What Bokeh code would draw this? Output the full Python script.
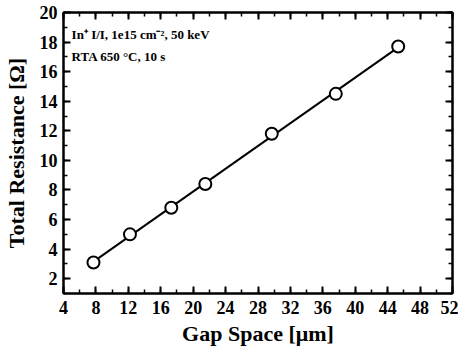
import numpy as np
from bokeh.plotting import figure
from bokeh.models import LinearAxis, SingleIntervalTicker, Range1d, Label, CustomJSTickFormatter
from bokeh.embed import file_html
from bokeh.resources import INLINE

gap_space = [7.7, 12.2, 17.3, 21.5, 29.7, 37.6, 45.3]
resistance = [3.1, 5.0, 6.8, 8.4, 11.8, 14.5, 17.7]
x_ticks_interval = 4
y_ticks_interval = 2
note_lines = ["In\u207a I/I, 1e15 cm\u207b\u00b2, 50 keV", "RTA 650 \u00b0C, 10 s"]

FONT = "Liberation Serif"

p = figure(width=458, height=348, output_backend="svg", toolbar_location=None,
           x_range=Range1d(4, 52), y_range=Range1d(1, 20),
           x_axis_label="Gap Space [\u03bcm]", y_axis_label="Total Resistance [\u03a9]",
           min_border_left=51, min_border_right=6, min_border_top=12, min_border_bottom=50)
p.grid.visible = False
p.outline_line_color = "black"
p.outline_line_width = 2
p.background_fill_color = "white"
p.border_fill_color = "white"

bottom = p.below[0]
left = p.left[0]
bottom.ticker = SingleIntervalTicker(interval=x_ticks_interval, num_minor_ticks=2)
left.ticker = SingleIntervalTicker(interval=y_ticks_interval, num_minor_ticks=2)

blank = CustomJSTickFormatter(code="return ''")
top = LinearAxis(ticker=SingleIntervalTicker(interval=x_ticks_interval, num_minor_ticks=2),
                 formatter=blank)
right = LinearAxis(ticker=SingleIntervalTicker(interval=y_ticks_interval, num_minor_ticks=2),
                   formatter=blank)
p.add_layout(top, "above")
p.add_layout(right, "right")

for ax in [bottom, left, top, right]:
    ax.axis_line_width = 2
    ax.major_tick_in = 7
    ax.major_tick_out = 0
    ax.minor_tick_in = 4
    ax.minor_tick_out = 0
    ax.major_tick_line_width = 2
    ax.minor_tick_line_width = 1.5
    ax.major_label_text_font = FONT
    ax.major_label_text_font_style = "bold"
    ax.major_label_text_font_size = "18px"
    ax.major_label_text_color = "black"
    ax.axis_label_text_font = FONT
    ax.axis_label_text_font_style = "bold"
    ax.axis_label_text_font_size = "22px"
    ax.axis_label_text_color = "black"

for ax in [top, right]:
    ax.major_label_standoff = 0

bottom.major_label_standoff = 7
bottom.axis_label_standoff = 4
left.major_label_standoff = 6
left.axis_label_standoff = 8

# linear fit from data
k, b = np.polyfit(gap_space, resistance, 1)
xs = [gap_space[0], gap_space[-1]]
p.line(xs, [k * v + b for v in xs], line_color="black", line_width=2)
p.scatter(gap_space, resistance, marker="circle", size=12, fill_color="white",
          line_color="black", line_width=2)

for i, t in enumerate(note_lines):
    p.add_layout(Label(x=5.0, y=18.5 - 1.5 * i, text=t, text_font=FONT,
                       text_font_style="bold", text_font_size="13px",
                       text_color="black", text_baseline="alphabetic"))

open("out.html", "w").write(file_html(p, INLINE))
